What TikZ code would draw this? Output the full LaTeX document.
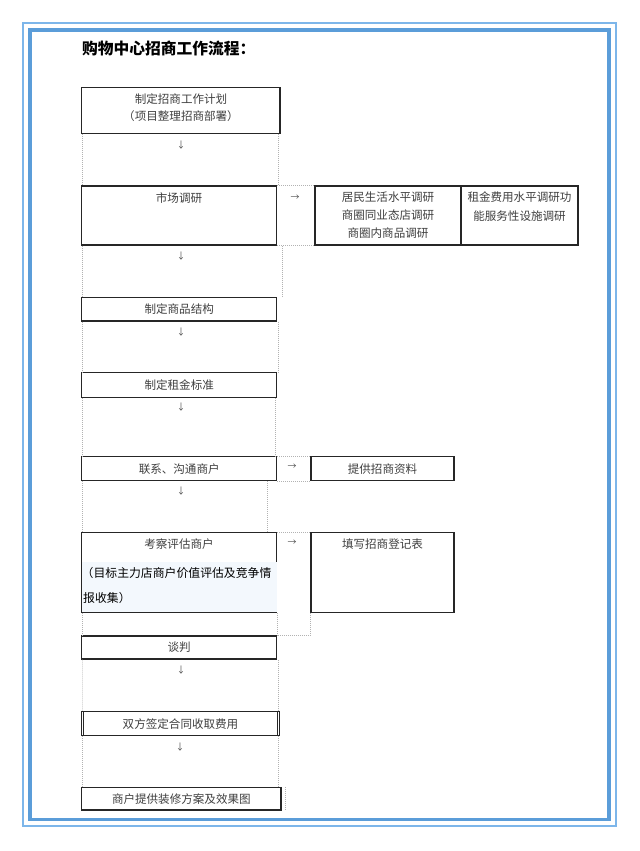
\documentclass[tikz,border=0pt]{standalone}
\usepackage{fontspec}
\newfontfamily\cjk{Noto Sans CJK SC}
\definecolor{frameblue}{RGB}{91,157,217}
\definecolor{framelight}{RGB}{125,182,234}
\definecolor{cellfill}{RGB}{243,248,253}
\newcommand{\boxfont}{\cjk\fontsize{11.6}{17}\selectfont}

\begin{document}
\begin{tikzpicture}[
		x=1bp, y=-1bp,
		stepbox/.style={
		% The shape:
		rectangle,
		inner sep=0pt,
		% The border:
		draw=black!85,
		line width=1.1bp,
		% The filling:
		fill=white,
		% Font
		font=\boxfont,
		text=black!75,
		align=center
		},
		steptext/.style={inner sep=0pt, font=\boxfont, text=black!75, align=center},
		arrowtext/.style={inner sep=0pt, font=\cjk\fontsize{9}{9}\selectfont, text=black!70},
		cellline/.style={draw=black!30, line width=0.6bp, dash pattern=on 1bp off 1bp}
	]
	\useasboundingbox (0,0) rectangle (640,851);
	% page frame
	\draw[framelight, line width=1.6bp] (23,23) rectangle (616,826);
	\draw[frameblue, line width=3.8bp] (30.3,30.3) rectangle (609,819.5);

	\node (TITLE)[anchor=west, inner sep=0pt, font=\cjk\bfseries\fontsize{15.8}{18}\selectfont] at (82,48) {购物中心招商工作流程：};

	% left column
	\node (S1)[stepbox, minimum width=198.3bp, minimum height=46bp] at (180.85,110.3) {};
	\node (S2)[stepbox, minimum width=195bp, minimum height=59bp] at (179.2,215.5) {};
	\node (S3)[stepbox, minimum width=195bp, minimum height=23.7bp] at (179.2,309.15) {制定商品结构};
	\node (S4)[stepbox, minimum width=195bp, minimum height=24.6bp] at (179.2,385) {制定租金标准};
	\node (S5)[stepbox, minimum width=195bp, minimum height=24bp] at (179.2,468.7) {联系、沟通商户};
	\node (S6)[stepbox, minimum width=195bp, minimum height=79.6bp] at (179.2,572.5) {};
	\fill[cellfill] ([shift={(0.6,29.5)}]S6.north west) rectangle ([shift={(-0.6,-0.6)}]S6.south east);
	\node (S7)[stepbox, minimum width=195bp, minimum height=23bp] at (179.2,647.5) {谈判};
	\node (S8)[stepbox, minimum width=197.6bp, minimum height=24bp] at (180.5,723.7) {双方签定合同收取费用};
	\node (S9)[stepbox, minimum width=199.3bp, minimum height=22.3bp] at (181.35,798.85) {商户提供装修方案及效果图};

	% right column
	\node (RA)[stepbox, minimum width=146bp, minimum height=59bp] at (388,215.5) {};
	\node (RB)[stepbox, minimum width=117bp, minimum height=59bp] at (519.5,215.5) {};
	\node (R5)[stepbox, minimum width=143bp, minimum height=24bp] at (382.5,468.7) {提供招商资料};
	\node (R6)[stepbox, minimum width=143bp, minimum height=79.6bp] at (382.5,572.5) {};

	% texts set at the top of their boxes
	\node (T1)[steptext] at (181,107.7) {制定招商工作计划\\（项目整理招商部署）};
	\node (T2)[steptext] at (179,198) {市场调研};
	\node (TA)[steptext, font=\cjk\fontsize{11.6}{18}\selectfont] at (388,215) {居民生活水平调研\\商圈同业态店调研\\商圈内商品调研};
	\node (TB)[steptext, font=\cjk\fontsize{11.6}{18.5}\selectfont] at (519.5,206.5) {租金费用水平调研功\\能服务性设施调研};
	\node (T6)[steptext] at (179,544) {考察评估商户};
	\node (T6B)[anchor=west, inner sep=0pt, font=\cjk\fontsize{11.9}{12}\selectfont] at (81.5,573) {（目标主力店商户价值评估及竞争情};
	\node (T6C)[anchor=west, inner sep=0pt, font=\cjk\fontsize{11.9}{12}\selectfont] at (83,598) {报收集）};
	\node (TR6)[steptext] at (382.5,544) {填写招商登记表};

	% double side lines of the contract box
	\draw[black!85, line width=0.9bp] ([xshift=2.3bp]S8.north west) -- ([xshift=2.3bp]S8.south west);
	\draw[black!85, line width=0.9bp] ([xshift=-2.6bp]S8.north east) -- ([xshift=-2.6bp]S8.south east);

	% arrows
	\node (D1)[arrowtext] at (181,145) {↓};
	\node (D2)[arrowtext] at (181,256) {↓};
	\node (D3)[arrowtext] at (181,332) {↓};
	\node (D4)[arrowtext] at (181,407) {↓};
	\node (D5)[arrowtext] at (181,491) {↓};
	\node (D7)[arrowtext] at (181,670) {↓};
	\node (D8)[arrowtext] at (180,747) {↓};
	\node (A2)[arrowtext] at (295,198) {→};
	\node (A5)[arrowtext] at (292,467) {→};
	\node (A6)[arrowtext] at (292,543) {→};

	% table cell lines
	\foreach \a/\b in {S1/S2,S2/S3,S3/S4,S4/S5,S5/S6,S6/S7,S7/S8,S8/S9}
		\draw[cellline] ([xshift=1.3bp]\a.south west) -- ([xshift=1.3bp]\b.north west);
	\foreach \a/\b/\dx in {S1/S2/-2.5,S2/S3/5.5,S3/S4/1,S4/S5/-2.2,S5/S6/-10.2,S6/S7/0,S7/S8/0.7,S8/S9/-1.8}{
		\path ([xshift=\dx bp]\a.south east) coordinate (t);
		\draw[cellline] (t) -- (t |- \b.north);
	}
	\draw[cellline] (S2.north east) -- (RA.north west);
	\draw[cellline] (S2.south east) -- (RA.south west);
	\draw[cellline] (S5.north east) -- (R5.north west);
	\draw[cellline] (S5.south east) -- (R5.south west);
	\draw[cellline] (S6.north east) -- (R6.north west);
	\draw[cellline] (R6.south west) -- (R6.south west |- S7.north) -- (S7.north east);
	\draw[cellline] ([xshift=4bp]S9.north east) -- ([xshift=4bp]S9.south east);
\end{tikzpicture}
\end{document}
